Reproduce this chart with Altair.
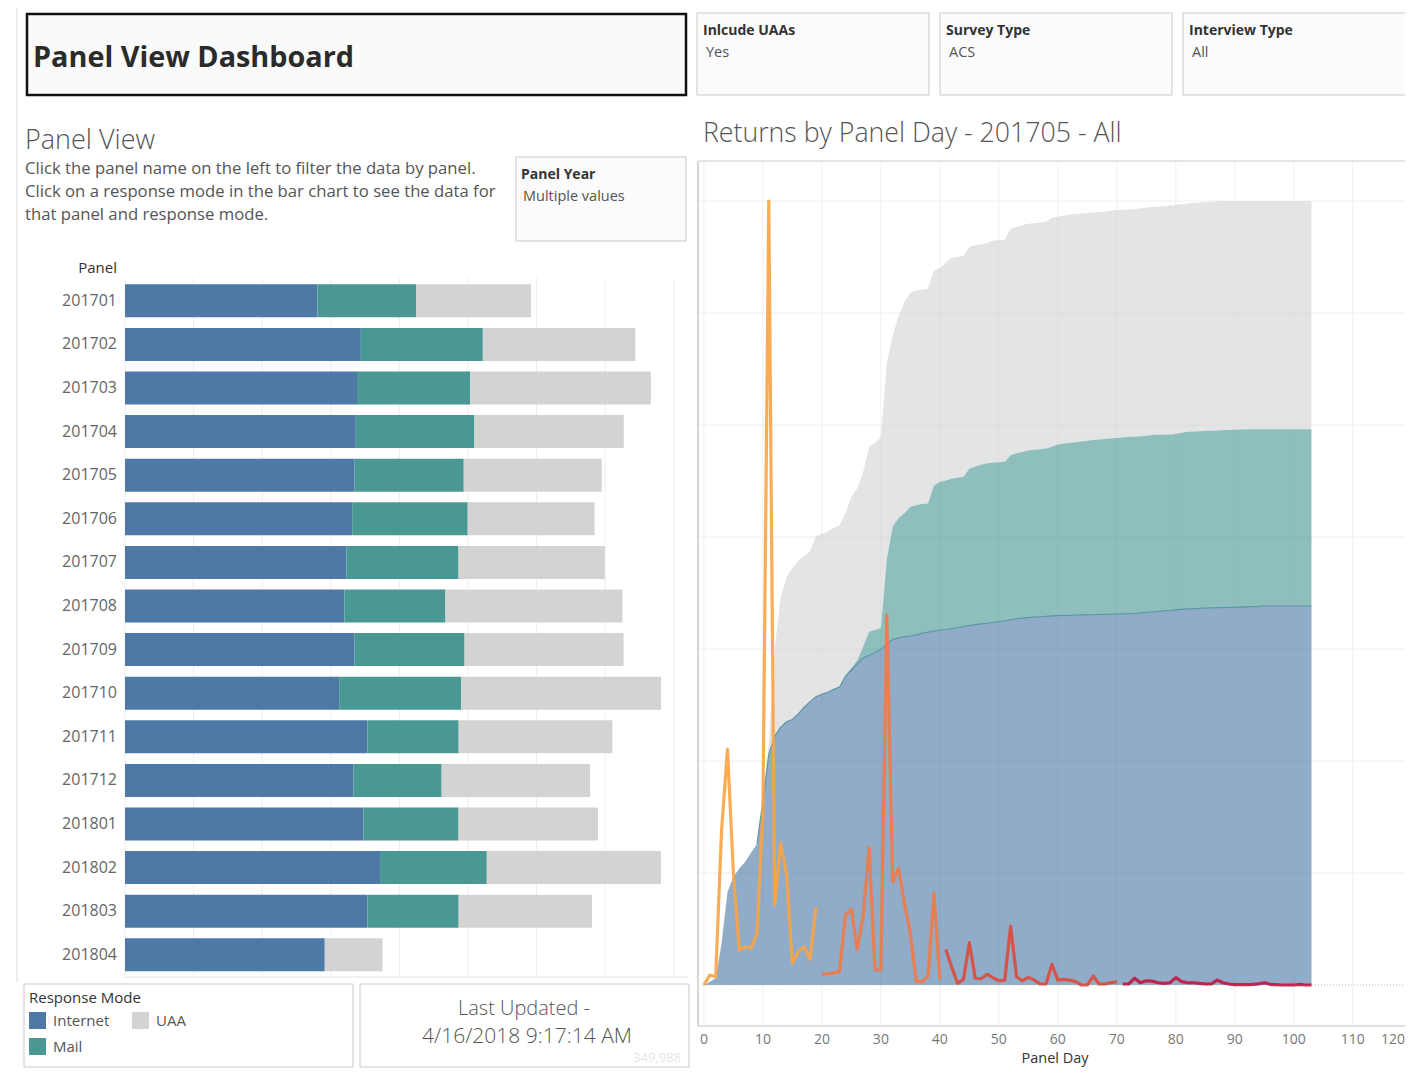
import altair as alt
import pandas as pd

FONT = "Open Sans"

# ---------------- data: bar chart (returns by panel and response mode) ----------------
panels = ["201701", "201702", "201703", "201704", "201705", "201706", "201707", "201708",
          "201709", "201710", "201711", "201712", "201801", "201802", "201803", "201804"]
internet = [14020, 17190, 16910, 16820, 16710, 16560, 16140, 15990,
            16710, 15610, 17670, 16660, 17380, 18590, 17670, 14560]
mail = [7190, 8890, 8260, 8640, 7980, 8420, 8170, 7370,
        8040, 8900, 6650, 6420, 6930, 7780, 6650, 0]
uaa = [8380, 11110, 13160, 10890, 10060, 9240, 10660, 12890,
       11590, 14560, 11200, 10820, 10160, 12690, 9720, 4210]
modes = ["Internet", "Mail", "UAA"]

# ---------------- data: cumulative returns by panel day (201705) ----------------
days = list(range(104))
cum_internet = [0, 1500, 3000, 18600, 41500, 48300, 52000, 55000, 59000, 63000,
                82000, 103000, 111000, 115000, 117500, 118500, 121000, 124000, 126500, 128700,
                129800, 130700, 132000, 133000, 137800, 140500, 143500, 146000, 147200, 148400,
                149800, 152000, 154300, 155000, 155400, 155800, 156300, 157000, 157500, 158000,
                158400, 158700, 159100, 159500, 160000, 160500, 160900, 161200, 161500, 161800,
                162200, 162600, 163000, 163500, 163800, 164000, 164200, 164400, 164600, 164800,
                164900, 165000, 165000, 165100, 165200, 165200, 165300, 165400, 165500, 165600,
                165700, 165700, 165800, 165900, 166100, 166400, 166600, 166800, 167000, 167200,
                167500, 167700, 167900, 168000, 168100, 168300, 168400, 168500, 168500, 168600,
                168600, 168700, 168800, 168900, 169000, 169200, 169200, 169200, 169200, 169200,
                169200, 169200, 169200, 169200]
cum_internet_mail = [0, 1500, 3000, 18600, 41500, 48300, 52000, 55000, 59000, 63000,
                     82000, 103000, 111000, 115000, 117500, 118500, 121000, 124000, 126500, 128700,
                     129800, 130700, 132000, 133000, 138300, 141500, 145000, 151000, 157700, 158500,
                     159300, 190000, 204600, 208500, 210600, 213500, 214300, 214700, 215000, 223000,
                     224500, 225200, 226000, 226500, 226900, 230500, 231500, 232300, 232900, 233200,
                     233400, 233600, 236500, 237400, 238000, 238600, 238900, 239200, 239500, 240300,
                     241300, 241700, 242000, 242300, 242600, 243000, 243300, 243500, 243700, 244000,
                     244200, 244400, 244600, 244800, 245000, 245200, 245500, 245600, 245700, 245800,
                     246000, 246500, 247000, 247100, 247200, 247300, 247400, 247600, 247800, 247800,
                     247900, 248000, 248100, 248100, 248100, 248100, 248100, 248100, 248100, 248100,
                     248100, 248100, 248100, 248100]
cum_all = [0, 1500, 3000, 18600, 41500, 48300, 52000, 55000, 59000, 63000,
           82000, 108000, 150000, 173000, 182000, 186000, 189500, 191500, 193500, 200400,
           201500, 202400, 204000, 205400, 210600, 218000, 221700, 229000, 240300, 242000,
           244500, 277500, 290000, 298400, 305000, 309200, 310000, 310500, 310800, 319000,
           320000, 322500, 324700, 325000, 325400, 329600, 330200, 330700, 331300, 332200,
           332500, 332700, 337500, 338500, 339300, 339800, 340100, 340400, 340700, 342500,
           343000, 343500, 344000, 344200, 344400, 344600, 344900, 345100, 345300, 345600,
           346000, 346100, 346200, 346400, 346700, 347100, 347300, 347500, 347700, 347900,
           348200, 348500, 348900, 349100, 349300, 349500, 349700, 349900, 349988, 349988,
           349988, 349988, 349988, 349988, 349988, 349988, 349988, 349988, 349988, 349988,
           349988, 349988, 349988, 349988]

# daily returns (secondary axis), four mail-out periods
daily_p1_start, daily_p1 = 0, [0, 890, 740, 13840, 21040, 10000, 3120, 3420, 3280, 4620,
                               15320, 70000, 7140, 12660, 9980, 1940, 2980, 3420, 2300, 6940]
daily_p2_start, daily_p2 = 20, [980, 980, 1100, 1190, 6250, 6760, 3180, 6100, 12260, 1340,
                                1340, 33040, 9220, 10420, 7300, 4620, 300, 300, 800, 8180, 440]
daily_p3_start, daily_p3 = 41, [3180, 1600, 150, 500, 3780, 600, 560, 960, 660, 380,
                                440, 5260, 740, 380, 680, 440, 90, 90, 1840, 440,
                                500, 440, 300, 0, 0, 800, 90, 90, 200, 300]
daily_p4_start, daily_p4 = 71, [90, 90, 600, 200, 380, 340, 200, 140, 200, 660,
                                300, 200, 200, 140, 100, 90, 440, 200, 90, 40,
                                40, 40, 60, 100, 200, 60, 40, 0, 0, 0, 60, 0, 0]

bar_ticks = [0, 5000, 10000, 15000, 20000, 25000, 30000, 35000, 40000]
day_ticks = [0, 10, 20, 30, 40, 50, 60, 70, 80, 90, 100, 110]
day_grid = [0, 10, 20, 30, 40, 50, 60, 70, 80, 90, 100, 110]
cum_grid = [50000, 100000, 150000, 200000, 250000, 300000, 350000]
total_returns = "349,988"

# ---------------- tables ----------------
rows = []
for i, p in enumerate(panels):
    for r, (m, v) in enumerate(zip(modes, [internet[i], mail[i], uaa[i]])):
        rows.append({"panel": p, "mode": m, "value": v, "rank": r})
bar_df = pd.DataFrame(rows)
panel_df = pd.DataFrame({"panel": panels})
area_df = pd.DataFrame({"day": days, "internet": cum_internet,
                        "internet_mail": cum_internet_mail, "all": cum_all})
line_rows = []
for seg, (st, vals) in zip(["P1", "P2", "P3", "P4"],
                           [(daily_p1_start, daily_p1), (daily_p2_start, daily_p2),
                            (daily_p3_start, daily_p3), (daily_p4_start, daily_p4)]):
    for j, v in enumerate(vals):
        line_rows.append({"day": st + j, "daily": v, "seg": seg})
line_df = pd.DataFrame(line_rows)

one = pd.DataFrame({"k": [0]})


def P(v):
    return v - 8


def rect(x1, y1, x2, y2, stroke="#c9c9c9", sw=1, fill="#fbfbfb"):
    return alt.Chart(one).mark_rect(fill=fill, stroke=stroke, strokeWidth=sw).encode(
        x=alt.value(P(x1)), x2=alt.value(P(x2)), y=alt.value(P(y1)), y2=alt.value(P(y2)))


def txt(s, x, y, size=14, color="#555555", weight="normal", align="left", baseline="middle"):
    return alt.Chart(one).mark_text(text=s, font=FONT, fontSize=size, color=color,
                                    fontWeight=weight, align=align, baseline=baseline).encode(
        x=alt.value(P(x)), y=alt.value(P(y)))


def rule(x1, y1, x2, y2, color="#e6e6e6", sw=1, dash=None):
    kw = {}
    if dash:
        kw["strokeDash"] = dash
    return alt.Chart(one).mark_rule(color=color, strokeWidth=sw, **kw).encode(
        x=alt.value(P(x1)), x2=alt.value(P(x2)), y=alt.value(P(y1)), y2=alt.value(P(y2)))


layers = []

# page border + header boxes
layers.append(rule(17, 8, 17, 982, color="#dedede", sw=1))
layers.append(rect(27, 14, 686, 95, stroke="#111111", sw=2.5, fill="#fafafa"))
layers.append(txt("Panel View Dashboard", 33, 67, size=28.8, color="#2b2b2b", weight="bold", baseline="alphabetic"))
for (x1, x2, t, v) in [(697, 929, "Inlcude UAAs", "Yes"), (940, 1172, "Survey Type", "ACS"),
                       (1183, 1420, "Interview Type", "All")]:
    layers.append(rect(x1, 13, x2, 95))
    layers.append(txt(t, x1 + 6, 31, size=14, color="#333333", weight="bold"))
    layers.append(txt(v, x1 + 9, 53, size=14.5, color="#555555"))

# left texts
layers.append(txt("Panel View", 25, 141, size=27, color="#555555", weight=300))
layers.append(txt("Click the panel name on the left to filter the data by panel.", 25, 169, size=16.7))
layers.append(txt("Click on a response mode in the bar chart to see the data for", 25, 192, size=16.7))
layers.append(txt("that panel and response mode.", 25, 215, size=16.7))
layers.append(rect(516, 157, 686, 241))
layers.append(txt("Panel Year", 521, 175, size=14, color="#333333", weight="bold"))
layers.append(txt("Multiple values", 523, 197, size=14.5))

# ---------------- bar chart ----------------
bx = alt.Scale(domain=[0, 41035], range=[P(125), P(688)], nice=False, zero=False)
by = alt.Scale(domain=panels, range=[P(279), P(976.6)], paddingInner=0.243, paddingOuter=0.1215)

layers.append(alt.Chart(pd.DataFrame({"v": bar_ticks})).mark_rule(color="#ededed", strokeWidth=1).encode(
    x=alt.X("v:Q", scale=bx, axis=None), y=alt.value(P(278)), y2=alt.value(P(977))))
layers.append(rule(125, 977, 688, 977, color="#e4e4e4"))
layers.append(txt("Panel", 117, 268, size=15, color="#333333", align="right"))
layers.append(alt.Chart(panel_df).mark_text(font=FONT, fontSize=16, color="#666666", align="right").encode(
    y=alt.Y("panel:N", scale=by, axis=None), x=alt.value(P(117)), text="panel:N"))
layers.append(alt.Chart(bar_df).mark_bar().encode(
    y=alt.Y("panel:N", scale=by, axis=None),
    x=alt.X("value:Q", stack="zero", scale=bx, axis=None),
    color=alt.Color("mode:N",
                    scale=alt.Scale(domain=["Internet", "Mail", "UAA"],
                                    range=["#4e79a7", "#499894", "#d3d3d3"]),
                    legend=alt.Legend(title="Response Mode", orient="none", legendX=P(29), legendY=P(991),
                                      columns=2, symbolType="square", symbolSize=289, symbolStrokeWidth=0,
                                      symbolOpacity=1, titleFont=FONT, labelFont=FONT, titleFontSize=15,
                                      titleFontWeight="normal", titleColor="#333333", labelFontSize=15,
                                      labelColor="#555555", columnPadding=22, rowPadding=9, padding=0,
                                      titlePadding=6, labelOffset=7)),
    order=alt.Order("rank:Q")))

# bottom boxes
layers.append(rect(24, 984, 353, 1067, fill="#ffffff"))
layers.append(rect(360, 984, 689, 1067, fill="#ffffff"))
layers.append(txt("Last Updated -", 524, 1009, size=20, color="#555555", align="center", weight=300))
layers.append(txt("4/16/2018 9:17:14 AM", 527, 1037, size=21, color="#555555", align="center", weight=300))
layers.append(txt(total_returns, 681, 1058, size=13, color="#e6e6e6", align="right"))

# ---------------- area chart ----------------
layers.append(txt("Returns by Panel Day - 201705 - All", 703, 134, size=26.7, color="#555555", weight=300))
ax = alt.Scale(domain=[-1, 118.85], range=[P(698), P(1405)], nice=False, zero=False)
ay = alt.Scale(domain=[-18304, 367857], range=[P(1026), P(161)], nice=False, zero=False)
ly = alt.Scale(domain=[-3661, 73571], range=[P(1026), P(161)], nice=False, zero=False)

layers.append(alt.Chart(pd.DataFrame({"d": day_grid})).mark_rule(color="#efefef").encode(
    x=alt.X("d:Q", scale=ax, axis=None), y=alt.value(P(161)), y2=alt.value(P(1026))))
layers.append(alt.Chart(pd.DataFrame({"c": cum_grid})).mark_rule(color="#efefef").encode(
    y=alt.Y("c:Q", scale=ay, axis=None), x=alt.value(P(698)), x2=alt.value(P(1405))))
layers.append(rule(698, 161, 1405, 161, color="#dcdcdc", sw=1.5))
layers.append(rule(698, 1026, 1405, 1026, color="#d6d6d6", sw=1.5))
layers.append(rule(698, 161, 698, 1026, color="#d6d6d6", sw=2))

layers.append(alt.Chart(area_df).mark_area(color="#d3d3d3", opacity=0.62).encode(
    x=alt.X("day:Q", scale=ax, axis=None), y=alt.Y("all:Q", scale=ay, axis=None), y2="internet_mail:Q"))
layers.append(alt.Chart(area_df).mark_area(color="#499894", opacity=0.62).encode(
    x=alt.X("day:Q", scale=ax, axis=None), y=alt.Y("internet_mail:Q", scale=ay, axis=None), y2="internet:Q"))
layers.append(alt.Chart(area_df).mark_area(color="#4e79a7", opacity=0.62).encode(
    x=alt.X("day:Q", scale=ax, axis=None), y=alt.Y("internet:Q", scale=ay, axis=None), y2=alt.datum(0)))
layers.append(alt.Chart(area_df).transform_filter(alt.datum.day >= 9).mark_line(
    color="#5b98a0", strokeWidth=1.2).encode(
    x=alt.X("day:Q", scale=ax, axis=None), y=alt.Y("internet:Q", scale=ay, axis=None)))
layers.append(alt.Chart(pd.DataFrame({"z": [0]})).mark_rule(color="#b9c1c9", strokeDash=[1, 2]).encode(
    y=alt.Y("z:Q", scale=ay, axis=None), x=alt.value(P(703)), x2=alt.value(P(1405))))

layers.append(alt.Chart(line_df).mark_line(strokeWidth=3.2, opacity=0.9, strokeJoin="round").encode(
    x=alt.X("day:Q", scale=ax, axis=None),
    y=alt.Y("daily:Q", scale=ly, axis=None),
    color=alt.Color("seg:N", scale=alt.Scale(domain=["P1", "P2", "P3", "P4"],
                                             range=["#f9a343", "#ef7a45", "#dc4a3b", "#c3163f"]),
                    legend=None),
    detail="seg:N"))

layers.append(alt.Chart(pd.DataFrame({"t": day_ticks})).mark_text(font=FONT, fontSize=14, color="#777777").encode(
    x=alt.X("t:Q", scale=ax, axis=None), y=alt.value(P(1040)), text="t:Q"))
layers.append(txt("120", 1405, 1040, size=14, color="#777777", align="right"))
layers.append(txt("Panel Day", 1055, 1059, size=14.5, color="#333333", align="center"))

chart = alt.layer(*layers).resolve_scale(x="independent", y="independent", color="independent").properties(
    width=1397, height=1060, padding=0, autosize=alt.AutoSizeParams(type="none"), background="white"
).configure_view(stroke=None)

chart.save("out.html", embed_options={"renderer": "svg", "actions": False})
